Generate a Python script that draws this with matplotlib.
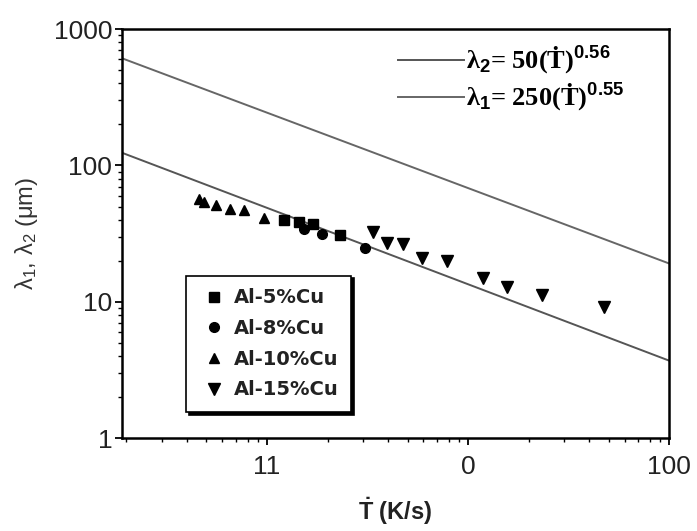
import matplotlib
matplotlib.use('Agg')
import matplotlib.pyplot as plt
from matplotlib.ticker import FixedLocator, FixedFormatter, LogLocator, NullFormatter

plt.rcParams['font.family'] = ['Liberation Sans', 'DejaVu Sans']
plt.rcParams['mathtext.fontset'] = 'custom'
plt.rcParams['mathtext.rm'] = 'Liberation Sans'
plt.rcParams['mathtext.it'] = 'Liberation Sans:italic'
plt.rcParams['mathtext.bf'] = 'Liberation Sans:bold'

# data
x_cu5 = [1.21, 1.44, 1.70, 2.31]
y_cu5 = [39.5, 38.4, 37.4, 30.7]

x_cu8 = [1.52, 1.87, 3.07]
y_cu8 = [34.4, 31.6, 24.9]

x_cu10 = [0.459, 0.486, 0.555, 0.658, 0.767, 0.97]
y_cu10 = [57.0, 53.8, 50.9, 47.6, 46.8, 41.2]

x_cu15 = [3.38, 3.93, 4.75, 5.90, 7.87, 11.8, 15.7, 23.4, 47.3]
y_cu15 = [32.5, 27.0, 26.4, 21.1, 19.9, 15.0, 12.8, 11.2, 9.2]

# fit lines (end points)
x_fit = [0.19, 100]
y_lam2 = [124, 3.7]
y_lam1 = [612, 19.1]

xticks = [1, 10, 100]
xtick_labels = ['11', '0', '100']
yticks = [1, 10, 100, 1000]
ytick_labels = ['1', '10', '100', '1000']

fig = plt.figure(figsize=(6.97, 5.31), dpi=100)
ax = fig.add_axes([0.175, 0.175, 0.785, 0.770])

l2, = ax.plot(x_fit, y_lam2, color='#555555', lw=1.4)
l1, = ax.plot(x_fit, y_lam1, color='#666666', lw=1.4)

s1, = ax.plot(x_cu5, y_cu5, 's', color='black', ms=6.5, ls='none')
s2, = ax.plot(x_cu8, y_cu8, 'o', color='black', ms=7, ls='none')
s3, = ax.plot(x_cu10, y_cu10, '^', color='black', ms=7.5, ls='none')
s4, = ax.plot(x_cu15, y_cu15, 'v', color='black', ms=8, ls='none')

ax.set_xscale('log')
ax.set_yscale('log')
ax.set_xlim(0.19, 100)
ax.set_ylim(1, 1000)

ax.xaxis.set_major_locator(FixedLocator(xticks))
ax.xaxis.set_major_formatter(FixedFormatter(xtick_labels))
ax.xaxis.set_minor_locator(LogLocator(base=10, subs=range(2, 10)))
ax.xaxis.set_minor_formatter(NullFormatter())
ax.yaxis.set_major_locator(FixedLocator(yticks))
ax.yaxis.set_major_formatter(FixedFormatter(ytick_labels))
ax.yaxis.set_minor_locator(LogLocator(base=10, subs=range(2, 10)))
ax.yaxis.set_minor_formatter(NullFormatter())

ax.tick_params(which='major', direction='out', length=5, width=1.3, labelsize=19,
               labelcolor='#222222', pad=2)
ax.tick_params(axis='x', which='major', pad=7)
ax.tick_params(which='minor', direction='out', length=3, width=1.0)
for sp in ax.spines.values():
    sp.set_linewidth(1.8)

ax.set_xlabel(r'$\mathbf{\dot{T}}$ (K/s)', fontsize=17, fontweight='bold',
              color='#222222', labelpad=12)
ax.set_ylabel('λ$_1$, λ$_2$ (μm)', fontsize=17, color='#333333', labelpad=10)

leg1 = ax.legend([l2, l1],
                 ['λ$_\\mathbf{2}$= 50(Ṫ)$^\\mathbf{0.56}$',
                  'λ$_\\mathbf{1}$= 250(Ṫ)$^\\mathbf{0.55}$'],
                 loc='upper right', bbox_to_anchor=(0.962, 1.02), frameon=False,
                 handlelength=2.5, handletextpad=0.1, labelspacing=0.2,
                 prop={'family': ['Liberation Serif', 'DejaVu Serif'],
                       'weight': 'bold', 'size': 19})
ax.add_artist(leg1)

leg2 = ax.legend([s1, s2, s3, s4], ['Al-5%Cu', 'Al-8%Cu', 'Al-10%Cu', 'Al-15%Cu'],
                 loc='lower left', bbox_to_anchor=(0.1, 0.04), frameon=True,
                 fancybox=False, shadow={'color': 'black', 'alpha': 1},
                 edgecolor='black', handletextpad=0.3, labelspacing=0.6,
                 borderpad=0.65, handlelength=1.5,
                 prop={'family': 'DejaVu Sans', 'weight': 'bold', 'size': 14})
leg2.get_frame().set_linewidth(1.2)
for t in leg2.get_texts():
    t.set_color('#222222')

fig.savefig('out.png', dpi=100)
